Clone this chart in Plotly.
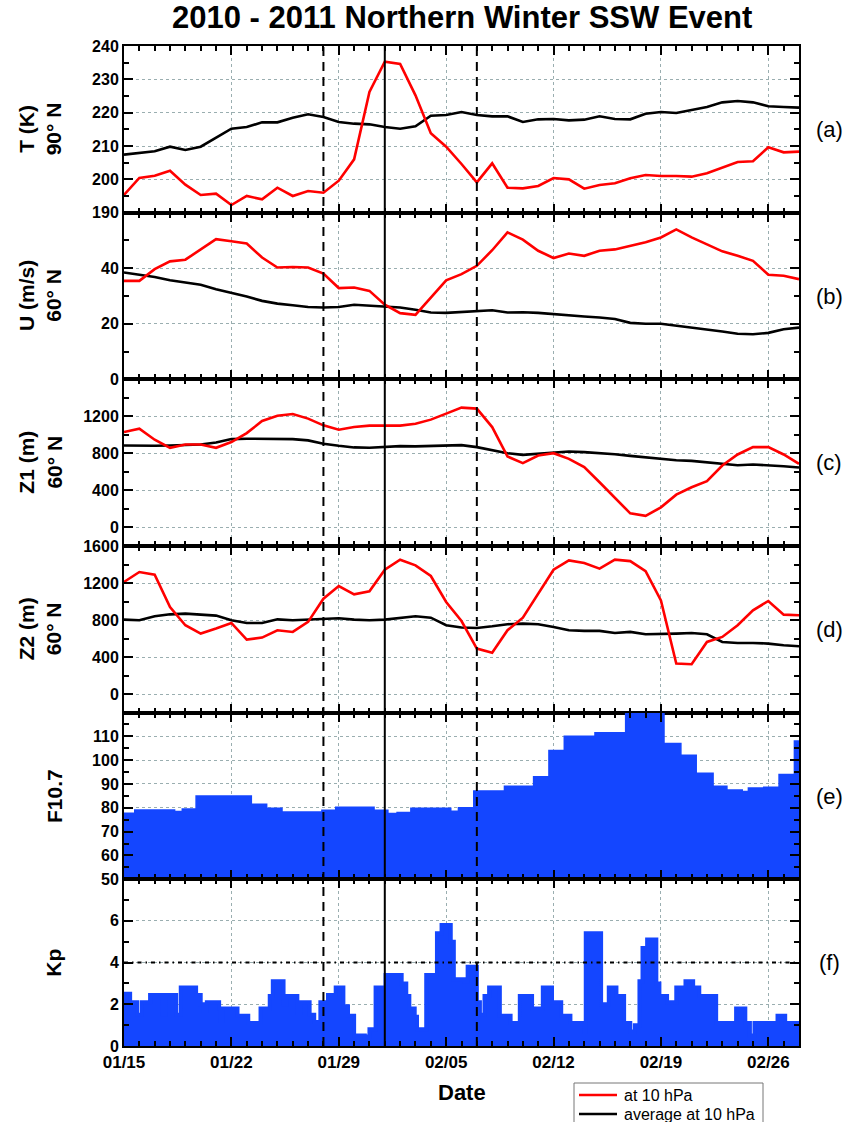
import numpy as np
import pandas as pd
import plotly.graph_objects as go
from plotly.subplots import make_subplots

# ---------------- data ----------------
start = pd.Timestamp('2011-01-15')
dates = pd.date_range('2011-01-15', periods=45, freq='D')

t_red = [195.3, 200.4, 201.1, 202.6, 198.4, 195.3, 195.7, 192.3, 195.0, 194.0,
         197.5, 195.0, 196.5, 196.0, 199.6, 206.0, 226.2, 235.3, 234.6, 225.2,
         213.8, 209.8, 204.6, 199.1, 204.8, 197.5, 197.3, 198.0, 200.4, 200.0,
         197.2, 198.3, 198.8, 200.3, 201.3, 201.0, 201.0, 200.8, 201.8, 203.4,
         205.2, 205.4, 209.6, 208.1, 208.3]
t_avg = [207.4, 207.9, 208.4, 209.8, 208.8, 209.8, 212.6, 215.2, 215.7, 217.1,
         217.1, 218.5, 219.5, 218.7, 217.2, 216.7, 216.5, 215.7, 215.2, 215.9,
         219.1, 219.3, 220.2, 219.3, 218.9, 218.9, 217.2, 218.0, 218.1, 217.7,
         217.9, 218.9, 218.1, 218.0, 219.7, 220.2, 219.9, 220.7, 221.7, 223.1,
         223.5, 223.1, 221.9, 221.7, 221.5]

u_red = [35.4, 35.4, 39.6, 42.4, 43.0, 46.8, 50.4, 49.6, 48.8, 43.8,
         40.2, 40.4, 40.2, 38.0, 32.8, 33.0, 31.8, 26.8, 23.8, 23.2,
         29.4, 35.6, 37.8, 40.8, 46.4, 52.8, 50.2, 46.2, 43.6, 45.2,
         44.4, 46.2, 46.7, 47.9, 49.3, 51.0, 53.9, 51.0, 48.4, 46.0,
         44.4, 42.6, 37.6, 37.2, 36.0]
u_avg = [38.4, 37.6, 36.8, 35.6, 34.8, 34.0, 32.4, 31.2, 29.8, 28.2,
         27.2, 26.6, 26.0, 25.8, 26.0, 26.8, 26.4, 26.0, 25.8, 25.0,
         24.0, 23.9, 24.2, 24.6, 24.8, 24.0, 24.1, 23.9, 23.4, 23.0,
         22.6, 22.2, 21.7, 20.3, 20.0, 20.0, 19.3, 18.8, 18.0, 17.2,
         16.4, 16.2, 16.7, 18.0, 18.6]

z1_red = [1030, 1066, 947, 860, 896, 896, 860, 922, 1019, 1149,
          1207, 1225, 1175, 1102, 1055, 1084, 1099, 1095, 1099, 1120,
          1164, 1229, 1294, 1283, 1084, 766, 694, 777, 802, 741,
          651, 488, 325, 152, 126, 217, 354, 434, 499, 669,
          788, 867, 867, 788, 687]
z1_avg = [885, 882, 882, 885, 893, 896, 918, 954, 958, 958,
          958, 954, 940, 904, 882, 864, 860, 867, 878, 875,
          882, 889, 889, 867, 831, 802, 784, 795, 813, 820,
          813, 806, 791, 773, 755, 741, 726, 719, 701, 683,
          672, 680, 672, 661, 647]

z2_red = [1211, 1319, 1290, 941, 744, 654, 708, 769, 589, 611,
          690, 672, 780, 1031, 1168, 1078, 1110, 1344, 1452, 1391,
          1276, 995, 790, 492, 446, 690, 826, 1085, 1344, 1444,
          1416, 1355, 1452, 1437, 1329, 1013, 331, 323, 564, 618,
          744, 905, 1006, 859, 852]
z2_avg = [805, 798, 841, 862, 870, 862, 848, 798, 769, 769,
          808, 798, 805, 812, 819, 805, 798, 805, 819, 841,
          826, 744, 719, 715, 733, 755, 762, 755, 726, 690,
          683, 683, 661, 672, 647, 647, 654, 661, 647, 564,
          553, 553, 546, 528, 517]

# F10.7 step changes: day offset from 01/15 and value
f107_day = [0, 0.7, 3.3, 3.8, 4.7, 8.3, 9.3, 10.3, 12.9, 13.8, 16.3, 17.2, 17.8,
            18.7, 21.3, 21.8, 22.8, 24.8, 26.7, 27.7, 28.7, 30.7, 32.7, 35.2,
            36.3, 37.3, 38.4, 39.3, 40.3, 40.7, 41.7, 42.7, 43.7]
f107_val = [77.7, 79.1, 78.4, 79.5, 85.0, 81.5, 79.8, 78.2, 79.0, 80.2, 79.0, 77.6, 78.0,
            79.8, 78.6, 80.0, 87.0, 89.0, 93.0, 104.0, 110.0, 111.5, 121.0, 107.0,
            102.0, 94.5, 89.0, 87.5, 86.8, 88.3, 88.6, 94.0, 108.0]

# Kp step changes: day offset from 01/15 and value
kp_day = [0, 0.4, 0.85, 1.15, 1.7, 2.5, 2.7, 3.4, 3.7, 4.7, 5.0, 5.2, 5.4, 6.2, 6.3,
          6.4, 7.4, 8.1, 8.9, 9.5, 9.7, 10.4, 10.6, 11.3, 11.5, 12.1, 12.4, 12.8,
          13.3, 13.8, 14.3, 14.6, 15.0, 15.7, 16.0, 16.4, 17.05, 18.1, 18.4,
          18.6, 18.95, 19.1, 19.7, 20.4, 20.7, 21.3, 21.5, 22.2, 22.4, 23.0, 23.2,
          23.5, 23.8, 24.5, 25.2, 25.8, 26.6, 27.3, 27.9, 28.5, 29.1, 30.0, 30.1,
          31.1, 31.6, 32.1, 32.6, 33.0, 33.3, 33.6, 33.8, 34.1, 34.7, 34.9, 35.4,
          36.0, 36.6, 37.1, 37.5, 38.6, 39.9, 40.5, 40.8, 41.1, 42.6, 43.1]
kp_val = [2.5, 2.1, 1.5, 2.1, 2.45, 1.5, 2.45, 1.5, 2.8, 2.45, 2.0, 1.7, 2.1, 1.8, 1.2,
          1.8, 1.45, 1.1, 1.8, 2.4, 3.1, 2.0, 2.4, 1.6, 2.1, 1.5, 1.15, 2.1,
          2.45, 2.8, 1.9, 1.45, 0.5, 0.45, 0.8, 2.8, 3.4, 3.0, 2.4,
          1.8, 1.4, 0.8, 3.4, 5.4, 5.8, 5.0, 3.2, 3.1, 3.8, 2.1, 1.5,
          2.4, 2.8, 1.45, 1.1, 2.4, 1.8, 2.8, 2.1, 1.45, 1.1, 0.7, 5.4,
          2.0, 2.8, 2.4, 1.1, 0.7, 1.0, 3.1, 4.7, 5.1, 3.0, 2.4, 2.1,
          2.8, 3.1, 2.8, 2.4, 1.1, 1.8, 1.1, 0.5, 1.1, 1.45, 1.1]

event_dashed = ['2011-01-28', '2011-02-07']
event_solid = ['2011-02-01']

x_end = pd.Timestamp('2011-02-28')
tick_labels = ['01/15', '01/22', '01/29', '02/05', '02/12', '02/19', '02/26']
legend_names = ['at 10 hPa', 'average at 10 hPa']

# ---------------- figure ----------------
RED = '#FF0000'
BLUE = '#1446FF'
FONT = 'Liberation Sans, Arial, sans-serif'

# plot area geometry in pixels
L, R, T, B = 124, 799, 46, 1046
W, H = R - L, B - T


def px(xp):
    return (xp - L) / W


def py(yp):
    return (B - yp) / H


fig = make_subplots(rows=6, cols=1, shared_xaxes=True, vertical_spacing=0)

pairs = [(t_red, t_avg), (u_red, u_avg), (z1_red, z1_avg), (z2_red, z2_avg)]
for i, (r, a) in enumerate(pairs, start=1):
    fig.add_trace(go.Scatter(x=dates, y=a, mode='lines', line=dict(color='black', width=2.6),
                             name=legend_names[1], showlegend=False), row=i, col=1)
    fig.add_trace(go.Scatter(x=dates, y=r, mode='lines', line=dict(color=RED, width=2.6),
                             name=legend_names[0], showlegend=False), row=i, col=1)


def step_xy(days, vals):
    xs = [start + pd.Timedelta(days=d) for d in days] + [x_end]
    ys = list(vals) + [vals[-1]]
    return xs, ys


fx, fy = step_xy(f107_day, f107_val)
fig.add_trace(go.Scatter(x=fx, y=fy, mode='lines', line=dict(color=BLUE, width=1.5, shape='hv'),
                         fill='tozeroy', fillcolor=BLUE, showlegend=False), row=5, col=1)
kx, ky = step_xy(kp_day, kp_val)
fig.add_trace(go.Scatter(x=kx, y=ky, mode='lines', line=dict(color=BLUE, width=4, shape='hv'),
                         fill='tozeroy', fillcolor=BLUE, showlegend=False), row=6, col=1)

# axes
yspecs = [
    dict(range=[190, 240], dtick=10, tick0=190, minor=5),
    dict(range=[0, 59.9], dtick=20, tick0=0, minor=10),
    dict(range=[-200, 1599], dtick=400, tick0=0, minor=200),
    dict(range=[-200, 1600], dtick=400, tick0=0, minor=200),
    dict(range=[50, 119.9], dtick=10, tick0=50, minor=5),
    dict(range=[0, 7.99], dtick=2, tick0=0, minor=1),
]
for i, s in enumerate(yspecs, start=1):
    fig.update_yaxes(row=i, col=1, range=s['range'], tickmode='linear', dtick=s['dtick'], tick0=s['tick0'],
                     ticks='inside', ticklen=9, tickwidth=2, tickcolor='black',
                     minor=dict(dtick=s['minor'], tick0=s['tick0'], ticks='inside', ticklen=5,
                                tickwidth=1.5, tickcolor='black', showgrid=False),
                     showline=True, linecolor='black', linewidth=2, mirror='allticks',
                     showgrid=True, gridcolor='#9aaeb0', griddash='dot', gridwidth=1,
                     zeroline=False,
                     tickfont=dict(family=FONT, size=16, color='black', weight='bold'))

tickvals = pd.date_range('2011-01-15', periods=7, freq='7D')
for i in range(1, 7):
    fig.update_xaxes(row=i, col=1, type='date', range=[start, x_end],
                     tickmode='array', tickvals=tickvals, ticktext=tick_labels,
                     ticks='inside', ticklen=9, tickwidth=2, tickcolor='black',
                     minor=dict(dtick=86400000, tick0='2011-01-15', ticks='inside', ticklen=5,
                                tickwidth=1.5, tickcolor='black', showgrid=False),
                     showline=True, linecolor='black', linewidth=2, mirror='allticks',
                     showgrid=True, gridcolor='#9aaeb0', griddash='dot', gridwidth=1,
                     zeroline=False, showticklabels=(i == 6),
                     tickfont=dict(family=FONT, size=17, color='black', weight='bold'))

# event lines
for d in event_dashed:
    fig.add_shape(type='line', xref='x', yref='paper', x0=d, x1=d, y0=0, y1=1,
                  line=dict(color='black', width=2, dash='9px,6px'), layer='above')
for d in event_solid:
    fig.add_shape(type='line', xref='x', yref='paper', x0=d, x1=d, y0=0, y1=1,
                  line=dict(color='black', width=2), layer='above')
# Kp = 4 reference
fig.add_shape(type='line', xref='x6 domain', yref='y6', x0=0, x1=1, y0=4, y1=4,
              line=dict(color='black', width=2, dash='4px,4px,1.5px,4px'), layer='above')

# annotations: y titles and panel labels
ytitles = ['T (K)<br>90° N', 'U (m/s)<br>60° N', 'Z1 (m)<br>60° N', 'Z2 (m)<br>60° N', 'F10.7', 'Kp']
letters = ['(a)', '(b)', '(c)', '(d)', '(e)', '(f)']
for i in range(6):
    yc = 1 - (i + 0.5) / 6
    two = '<br>' in ytitles[i]
    xc = px(40) if two else px(54)
    fig.add_annotation(xref='paper', yref='paper', x=xc, y=yc,
                       text='<b>' + ytitles[i].replace('<br>', '</b><br><b>') + '</b>',
                       textangle=-90, showarrow=False, xanchor='center', yanchor='middle',
                       font=dict(family=FONT, size=21, color='black'))
    fig.add_annotation(xref='paper', yref='paper', x=px(829), y=yc, text=letters[i],
                       showarrow=False, xanchor='center', yanchor='middle',
                       font=dict(family=FONT, size=22, color='black'))

fig.add_annotation(xref='paper', yref='paper', x=0.5, y=py(18), text='<b>2010 - 2011 Northern Winter SSW Event</b>',
                   showarrow=False, xanchor='center', yanchor='middle',
                   font=dict(family=FONT, size=31, color='black'))
fig.add_annotation(xref='paper', yref='paper', x=0.5, y=py(1092), text='<b>Date</b>',
                   showarrow=False, xanchor='center', yanchor='middle',
                   font=dict(family=FONT, size=22, color='black'))

# legend box (drawn in paper coordinates, cut by the page edge like the reference)
fig.add_shape(type='rect', xref='paper', yref='paper', x0=px(574), x1=px(763), y0=py(1135), y1=py(1083),
              line=dict(color='#777777', width=1), fillcolor='white', layer='above')
leg_colors = [RED, 'black']
leg_rows = [1095, 1114]
for name, col, yr in zip(legend_names, leg_colors, leg_rows):
    fig.add_shape(type='line', xref='paper', yref='paper', x0=px(579), x1=px(617), y0=py(yr), y1=py(yr),
                  line=dict(color=col, width=2.6), layer='above')
    fig.add_annotation(xref='paper', yref='paper', x=px(622), y=py(yr), text=name,
                       showarrow=False, xanchor='left', yanchor='middle',
                       font=dict(family=FONT, size=16, color='black'))

fig.update_layout(
    width=852, height=1122,
    margin=dict(l=L, r=852 - R, t=T, b=1122 - B, autoexpand=False),
    paper_bgcolor='white', plot_bgcolor='white',
    showlegend=False,
)

fig.write_html('out.html')
